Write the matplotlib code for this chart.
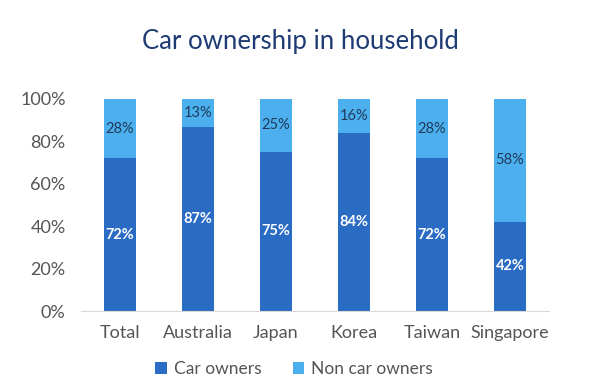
import matplotlib
matplotlib.use("Agg")
import matplotlib.pyplot as plt
import numpy as np

categories = ["Total", "Australia", "Japan", "Korea", "Taiwan", "Singapore"]
car_owners = [72, 87, 75, 84, 72, 42]
non_car_owners = [28, 13, 25, 16, 28, 58]
yticks = [0, 20, 40, 60, 80, 100]

plt.rcParams['font.family'] = ['Lato', 'DejaVu Sans']

dark = "#2a6cc4"
light = "#4db0ee"

fig = plt.figure(figsize=(6, 3.92), dpi=100)
ax = fig.add_axes([0.135, 0.2066, 0.78, 0.541])
x = np.arange(len(categories))
w = 0.4
b1 = ax.bar(x, car_owners, w, color=dark, label="Car owners")
b2 = ax.bar(x, non_car_owners, w, bottom=car_owners, color=light, label="Non car owners")

for i in range(len(categories)):
    ax.text(x[i], car_owners[i] / 2, f"{car_owners[i]}%", ha="center", va="center",
            color="white", fontsize=10.5, fontweight="bold")
    ax.text(x[i], car_owners[i] + non_car_owners[i] / 2, f"{non_car_owners[i]}%", ha="center",
            va="center", color="#1f3b5c", fontsize=10.5)

ax.set_xlim(-0.5, 5.5)
ax.set_ylim(0, 100)
ax.set_yticks(yticks)
ax.set_yticklabels([f"{v}%" for v in yticks])
ax.set_xticks(x)
ax.set_xticklabels(categories)
ax.tick_params(axis="both", length=0, labelsize=13, colors="#555555")
ax.tick_params(axis="y", pad=11)
ax.tick_params(axis="x", pad=10)
for s in ["top", "right", "left"]:
    ax.spines[s].set_visible(False)
ax.spines["bottom"].set_color("#d9d9d9")

fig.text(0.5, 0.895, "Car ownership in household", ha="center", va="center",
         fontsize=18.5, color="#1f3b73")

fig.legend(handles=[b1, b2], loc="center", bbox_to_anchor=(0.49, 0.058), ncol=2,
           frameon=False, fontsize=12.5, handlelength=0.65, handleheight=0.65,
           handletextpad=0.4, columnspacing=1.8, labelcolor="#555555")

fig.savefig("out.png", dpi=100)
